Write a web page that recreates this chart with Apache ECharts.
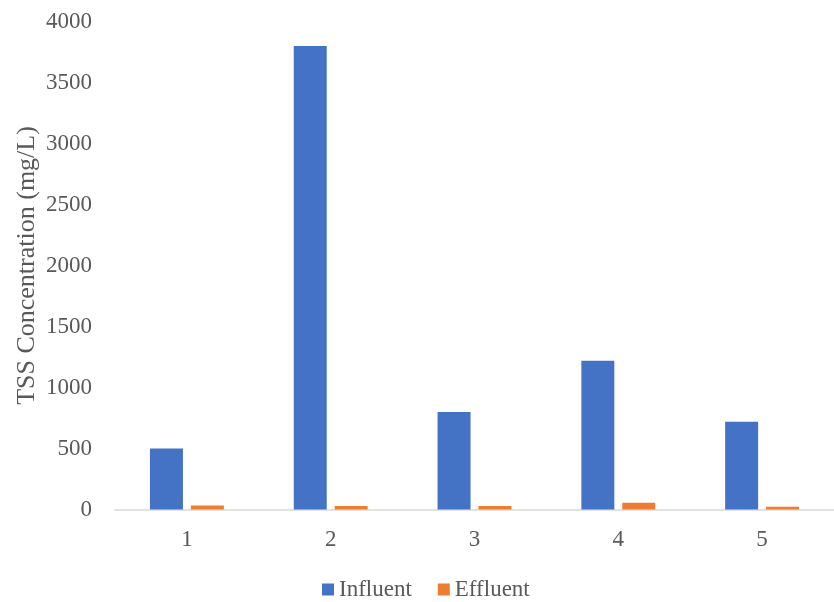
<!DOCTYPE html>
<html>
<head>
<meta charset="utf-8">
<script src="https://cdn.jsdelivr.net/npm/echarts@6/dist/echarts.min.js"></script>
<style>html,body{margin:0;padding:0;background:#fff;}#c{width:834px;height:602px;}</style>
</head>
<body>
<div id="c"></div>
<script>
const categories = ['1', '2', '3', '4', '5'];
const influent = [500, 3800, 800, 1220, 720];
const effluent = [33, 28, 28, 55, 22];
const yTicks = { min: 0, max: 4000, interval: 500 };

const font = 'Liberation Serif, Times New Roman, serif';
const textColor = '#595959';
const chart = echarts.init(document.getElementById('c'), null, { renderer: 'canvas' });
chart.setOption({
  animation: false,
  backgroundColor: '#ffffff',
  grid: { left: 115, right: -4, top: 21.5, bottom: 92.5, containLabel: false },
  legend: {
    top: 573,
    left: 317,
    itemWidth: 12,
    itemHeight: 12,
    itemGap: 26,
    icon: 'rect',
    textStyle: { fontFamily: font, fontSize: 23, color: textColor },
    data: ['Influent', 'Effluent']
  },
  xAxis: {
    type: 'category',
    data: categories,
    axisLine: { show: true, lineStyle: { color: '#d9d9d9', width: 1.5 } },
    axisTick: { show: false },
    axisLabel: { fontFamily: font, fontSize: 23, color: textColor, margin: 19 },
    splitLine: { show: false }
  },
  yAxis: {
    type: 'value',
    min: yTicks.min,
    max: yTicks.max,
    interval: yTicks.interval,
    name: 'TSS Concentration (mg/L)',
    nameLocation: 'middle',
    nameGap: 75,
    nameMoveOverlap: false,
    nameTextStyle: { fontFamily: font, fontSize: 26, color: textColor },
    axisLine: { show: false },
    axisTick: { show: false },
    splitLine: { show: false },
    axisLabel: { fontFamily: font, fontSize: 23, color: textColor, margin: 23, formatter: (v) => String(v) }
  },
  series: [
    { name: 'Influent', type: 'bar', data: influent, barWidth: 33, barGap: '24%', itemStyle: { color: '#4472C4' } },
    { name: 'Effluent', type: 'bar', data: effluent, barWidth: 33, itemStyle: { color: '#ED7D31' } }
  ]
});
</script>
</body>
</html>
